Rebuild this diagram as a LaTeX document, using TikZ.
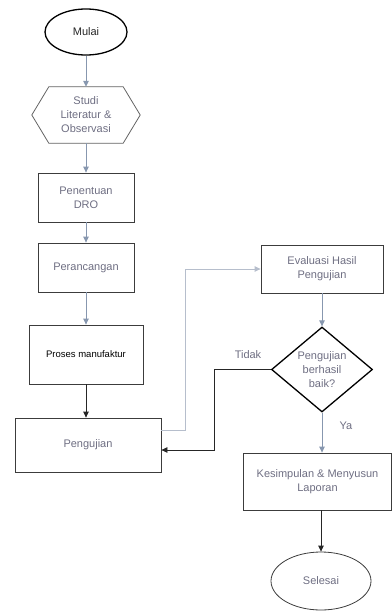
\documentclass[tikz,border=0pt]{standalone}
\usepackage{fontspec}
\setmainfont{Liberation Sans}
\usetikzlibrary{shapes.geometric,arrows.meta}
\definecolor{txtgray}{HTML}{6E6E82}
\definecolor{boxgray}{HTML}{3C3C3C}
\definecolor{flowblue}{HTML}{8797AF}
\definecolor{lightflow}{HTML}{B6BECC}

\begin{document}
\begin{tikzpicture}[x=1pt,y=-1pt,>={Triangle[length=6pt,width=5.5pt]},font=\fontsize{11}{14}\selectfont]
	\tikzstyle{box}=[rectangle,draw=boxgray,line width=0.8pt,text=txtgray,align=center,inner sep=1pt]
	\tikzstyle{terminal}=[ellipse,draw=black,line width=1.3pt,text=black!85,inner sep=0pt]
	\tikzstyle{decision}=[diamond,draw=black,line width=1.3pt,text=txtgray,align=center,aspect=1.2,inner sep=0pt]
	\tikzstyle{flow}=[->,draw=flowblue,line width=1pt]
	\tikzstyle{back}=[->,draw=black!85,line width=0.8pt]
	\tikzstyle{annot}=[text=txtgray,align=center]
	
	\useasboundingbox (0,0) rectangle (391,613);
	
	% Draw the left column
	\node[terminal,minimum width=82,minimum height=46] (mulai) at (86,32) {Mulai};
	\node[annot,minimum width=108,minimum height=56,inner sep=0pt] (studi) at (86,115) {Studi\\Literatur \&\\Observasi};
	\draw[draw=boxgray!80,line width=0.8pt] (studi.west) -- ([xshift=17pt]studi.north west) -- ([xshift=-17pt]studi.north east)
	-- (studi.east) -- ([xshift=-17pt]studi.south east) -- ([xshift=17pt]studi.south west) -- cycle;
	\node[box,minimum width=96,minimum height=49] (penentuan) at (86,197.5) {Penentuan\\DRO};
	\node[box,minimum width=96,minimum height=49] (perancangan) at (86,267.5) {Perancangan};
	\node[box,minimum width=114,minimum height=59,text=black,font=\fontsize{9.5}{12}\selectfont] (proses) at (86,354.5) {Proses manufaktur};
	\node[box,minimum width=146,minimum height=54] (pengujian) at (88,445) {Pengujian};
	
	% Draw the right column
	\node[box,minimum width=122,minimum height=48] (evaluasi) at (322,269) {Evaluasi Hasil\\Pengujian};
	\node[decision,minimum width=101,minimum height=85] (cek) at (322,369.5) {Pengujian\\berhasil\\baik?};
	\node[box,minimum width=148,minimum height=57] (kesimpulan) at (317.5,481.5) {Kesimpulan \& Menyusun\\Laporan};
	\node[terminal,draw=boxgray,line width=0.8pt,text=txtgray,minimum width=100,minimum height=58] (selesai) at (321,581) {Selesai};
	
	% Connect the steps
	\foreach \source/\dest in {mulai/studi,studi/penentuan,penentuan/perancangan,perancangan/proses}
	\path (\source) edge[flow] (\dest);
	\draw[back] (proses.south) -- (proses.south |- pengujian.north);
	\draw[flow,draw=lightflow] ([yshift=15pt]pengujian.east) -- ++(24,0) |- (evaluasi.west);
	\draw[flow] (evaluasi) -- (cek);
	\draw[back] (cek.west) -- ++(-56,0) |- ([yshift=-5pt]pengujian.east);
	\draw[flow] (cek.south) -- (cek.south |- kesimpulan.north);
	\draw[back] (selesai.north |- kesimpulan.south) -- (selesai.north);
	
	% Annotate the branches
	\node[annot] (tidak) at (248,355) {Tidak};
	\node[annot] (ya) at (346,426) {Ya};
\end{tikzpicture}
\end{document}
